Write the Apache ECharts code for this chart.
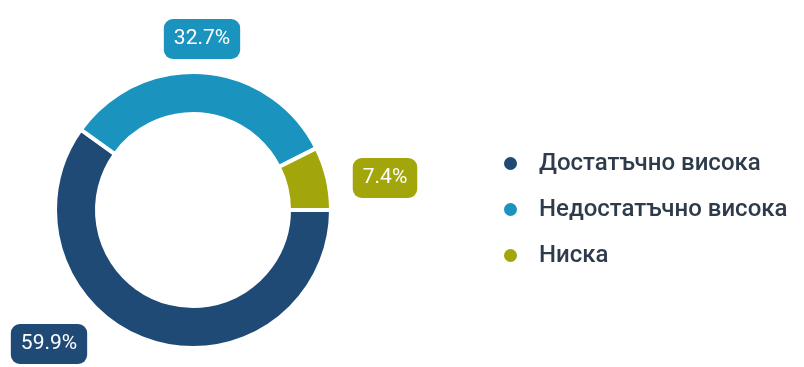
<!DOCTYPE html>
<html>
<head>
<meta charset="utf-8">
<script src="https://cdn.jsdelivr.net/npm/echarts@6/dist/echarts.min.js"></script>
<style>html,body{margin:0;padding:0;background:#fff}#c{width:804px;height:367px}</style>
</head>
<body>
<div id="c"></div>
<script>
const categories = ['Достатъчно висока', 'Недостатъчно висока', 'Ниска'];
const values = [59.9, 32.7, 7.4];
const colors = ['#1f4a75', '#1a93bf', '#a3a60a'];

const labelPos = [[49, 344], [202, 39], [385, 178]];

const chart = echarts.init(document.getElementById('c'));
chart.setOption({
  animation: false,
  textStyle: { fontFamily: 'Roboto' },
  legend: {
    orient: 'vertical',
    left: 497,
    top: 144,
    icon: 'circle',
    itemWidth: 15,
    itemHeight: 15,
    itemGap: 17,
    textStyle: { fontSize: 24, fontWeight: 500, color: '#2e3b4a', padding: [0, 0, 0, 16], lineHeight: 29 },
    data: categories
  },
  series: [{
    type: 'pie',
    center: [193, 210],
    radius: [96, 138],
    startAngle: 0,
    clockwise: true,
    avoidLabelOverlap: false,
    itemStyle: { borderColor: '#fff', borderWidth: 4 },
    label: {
      show: true,
      position: 'outside',
      formatter: p => p.value.toFixed(1) + '%',
      color: '#fff',
      fontSize: 21,
      fontFamily: 'Roboto',
      padding: [10, 10, 9, 10],
      borderRadius: 9,
      backgroundColor: 'inherit'
    },
    labelLine: { show: false },
    labelLayout: function (params) {
      const p = labelPos[params.dataIndex];
      return { x: p[0], y: p[1], align: 'center', verticalAlign: 'middle' };
    },
    data: categories.map((c, i) => ({
      name: c,
      value: values[i],
      itemStyle: { color: colors[i] },
      label: { backgroundColor: colors[i] }
    }))
  }]
});
</script>
</body>
</html>
